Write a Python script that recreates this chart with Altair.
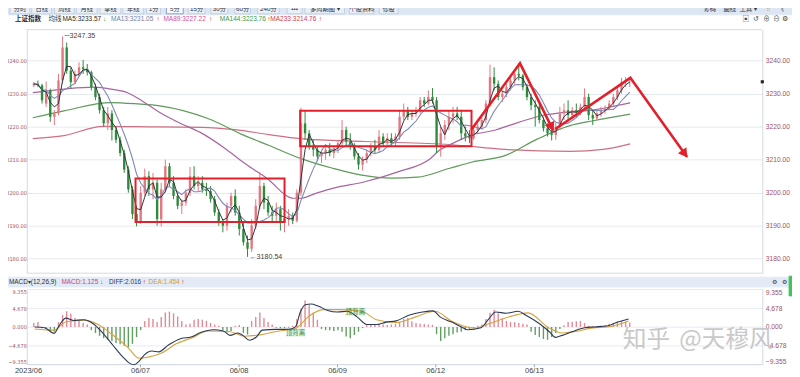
import math
import altair as alt
import pandas as pd

# ---------------- values ----------------
# one candle = two 5-minute bars; candle_bar = 5-minute bar index of the candle
candle_bar = list(range(1, 292, 2))
opens = [3232.5, 3233, 3232.5, 3227, 3231, 3223, 3224, 3234, 3244, 3237,
         3233.5, 3236, 3238, 3237.5, 3236.5, 3232, 3229, 3225, 3221, 3224,
         3219, 3216, 3212, 3207, 3201, 3193.5, 3191, 3200, 3205, 3201,
         3203, 3192, 3201, 3208, 3203, 3199, 3196, 3197, 3200, 3205,
         3202, 3203, 3201, 3200.5, 3198, 3194, 3191, 3190, 3196, 3199,
         3194, 3189, 3185, 3183, 3190, 3196, 3202, 3197, 3194, 3193,
         3195, 3191, 3192, 3193, 3191.5, 3200, 3221, 3218, 3214, 3213,
         3211, 3212, 3213, 3212, 3213.5, 3215, 3219, 3215.5, 3214, 3211,
         3208.5, 3210, 3212, 3214, 3213, 3217, 3215, 3216.5, 3215, 3217,
         3223, 3225, 3223, 3224, 3225, 3228, 3227, 3229, 3228, 3214,
         3218, 3220.5, 3223, 3224, 3223, 3218, 3217, 3216.5, 3219, 3220,
         3222, 3227, 3235, 3233, 3229, 3230, 3232, 3234, 3236, 3235.5,
         3232, 3229, 3226.5, 3226, 3222, 3219.5, 3218, 3217.5, 3220, 3224,
         3225, 3223.5, 3225, 3224.5, 3226, 3229, 3223.5, 3222.5, 3224, 3225,
         3225.5, 3227, 3229, 3231, 3233.5, 3233.5]
highs = [3233.5, 3234, 3233, 3233.7, 3231.5, 3225, 3236, 3247.35, 3245.5, 3238,
         3237, 3239.5, 3240.2, 3239, 3237, 3233, 3230, 3226, 3226, 3225,
         3220, 3217, 3213, 3208, 3202, 3196, 3202, 3207.3, 3206.5, 3206,
         3204, 3203, 3210, 3209, 3205, 3200, 3198, 3201, 3207.8, 3208,
         3205, 3205, 3203, 3202, 3199, 3195, 3192, 3197, 3200, 3201,
         3196, 3191, 3187, 3192, 3198, 3206.2, 3203, 3199, 3196, 3197,
         3196, 3194, 3195, 3194, 3201, 3225.7, 3225, 3219, 3216, 3214,
         3213, 3214, 3215, 3214, 3216, 3222, 3220, 3218, 3215, 3212,
         3211, 3213, 3215, 3216, 3219, 3218, 3218, 3218, 3218, 3225,
         3227, 3226, 3225, 3226, 3229, 3229, 3231, 3231.7, 3229, 3220,
         3222, 3225, 3226, 3226, 3225, 3220, 3219, 3220, 3221, 3223,
         3228, 3238.8, 3238, 3234, 3231, 3233, 3235, 3237, 3239.3, 3236,
         3233, 3230, 3228, 3227, 3223, 3221, 3219, 3221, 3226, 3227,
         3228, 3226, 3227, 3227, 3231.6, 3230, 3225, 3225, 3226, 3226.5,
         3228, 3230, 3232, 3234.8, 3235, 3234.5]
lows = [3232, 3232, 3227, 3226, 3221.5, 3220.5, 3223.5, 3233, 3236, 3231.5,
        3233, 3235, 3236, 3235.5, 3231, 3228, 3224, 3220, 3219, 3215.8,
        3215, 3211, 3206, 3200, 3192, 3189.8, 3190.5, 3199, 3199, 3198,
        3190, 3189.8, 3200, 3202, 3198, 3195, 3193.5, 3196, 3199, 3201,
        3200.5, 3200, 3199, 3197, 3193, 3190, 3188, 3188.5, 3194, 3193,
        3187, 3184, 3180.54, 3182, 3189, 3195, 3195, 3193, 3191, 3191,
        3188.5, 3188, 3190, 3190.5, 3191, 3199, 3216, 3213, 3211, 3209.5,
        3209, 3210, 3211, 3210.5, 3212, 3214, 3214, 3213, 3210, 3207,
        3206.7, 3209, 3211, 3212, 3212, 3214, 3214, 3214, 3214, 3216,
        3222, 3222, 3222, 3223, 3224, 3226, 3226.5, 3227, 3212, 3210.9,
        3216, 3219, 3221, 3222, 3216, 3215.5, 3215, 3216, 3218, 3219,
        3221, 3226, 3231, 3228, 3227.5, 3229, 3231, 3233, 3234, 3231,
        3228, 3225, 3220, 3221, 3218.5, 3217, 3215.8, 3216, 3219, 3222,
        3222, 3222.5, 3223, 3223.5, 3225, 3222, 3220.5, 3222, 3223, 3224,
        3225, 3226, 3228, 3230, 3232, 3232]
closes = [3233, 3232.5, 3228, 3231, 3223, 3224, 3234, 3244, 3237, 3233.5,
          3236, 3238, 3237.5, 3236.5, 3232, 3229, 3225, 3221, 3224, 3219,
          3216, 3212, 3207, 3201, 3193.5, 3191, 3200, 3205, 3201, 3203,
          3192, 3201, 3208, 3203, 3199, 3196, 3197, 3200, 3205, 3202,
          3203, 3201, 3200.5, 3198, 3194, 3191, 3190, 3196, 3199, 3194,
          3189, 3185, 3183, 3190, 3196, 3202, 3197, 3194, 3193, 3195,
          3191, 3192, 3193, 3191.5, 3200, 3221, 3218, 3214, 3213, 3211,
          3212, 3213, 3212, 3213.5, 3215, 3219, 3215.5, 3214, 3211, 3208.5,
          3210, 3212, 3214, 3213, 3217, 3215, 3216.5, 3215, 3217, 3223,
          3225, 3223, 3224, 3225, 3228, 3227, 3229, 3228, 3214, 3218,
          3220.5, 3223, 3224, 3223, 3218, 3217, 3216.5, 3219, 3220, 3222,
          3227, 3235, 3233, 3229, 3230, 3232, 3234, 3236, 3235.5, 3232,
          3229, 3226.5, 3226, 3222, 3219.5, 3218, 3217.5, 3220, 3224, 3225,
          3223.5, 3225, 3224.5, 3226, 3229, 3223.5, 3222.5, 3224, 3225, 3225.5,
          3227, 3229, 3231, 3233.5, 3233.5, 3233.6]
macd_hist = [1.0, 1.2, -0.3, -0.6, -1.0, -1.2, 1.2, 3.0, 3.9, 3.3,
             2.2, 1.6, 1.0, 0.6, -0.8, -1.5, -2.2, -2.8, -3.2, -3.5,
             -4.0, -4.3, -4.7, -5.0, -4.2, -2.5, -0.8, 1.5, 2.2, 2.0,
             1.2, 2.5, 3.6, 3.8, 3.4, 2.6, 1.5, 0.6, 0.8, 1.8,
             2.0, 1.8, 1.5, 1.0, 0.6, 0.3, -0.8, -1.4, -1.0, 0.3,
             0.5, -1.5, -1.9, 1.5, 2.5, 3.6, 2.2, 1.2, 0.6, -0.2,
             -0.3, -0.3, -0.2, 0.3, 2.0, 4.5, 6.6, 5.5, 3.5, 1.8,
             -0.5, -0.8, -0.8, -1.0, -0.8, -1.2, -2.4, -2.8, -2.0, -1.2,
             -0.3, 0.4, 0.5, 0.6, 0.8, 0.6, 0.5, 0.6, 0.8, 1.2,
             2.0, 2.2, 1.4, 1.0, 0.8, 0.7, 0.6, 0.5, -1.8, -3.5,
             -2.8, -2.2, -1.8, -1.4, -1.2, -0.8, -0.5, -0.3, 0.3, 0.6,
             2.0, 3.5, 4.3, 3.4, 2.2, 1.5, 1.2, 1.2, 1.0, 0.8,
             0.6, -1.2, -2.0, -2.5, -3.0, -3.2, -2.5, -1.5, -0.5, 0.4,
             1.2, 1.3, 1.4, 1.5, 1.0, 0.3, 0.2, 0.1, 0.3, 0.5,
             0.8, 1.0, 1.3, 1.4, 1.2, 1.1]

ma89_bar = [0.5, 15.7, 29.9, 39.4, 46.6, 53.7, 62.3, 72.7, 82.2, 94.1, 103.6, 114.5, 127.4,
            130.7, 138.3, 146.4, 162.1, 178.2, 193.9, 198.7, 203.4, 214.4, 225.8, 232.0,
            248.0, 261.9, 272.3, 281.8, 291.2]
ma89_val = [3230.3, 3231.4, 3232.0, 3231.3, 3230.3, 3227.8, 3224.3, 3220.9, 3218.2, 3213.4,
            3208.9, 3204.3, 3198.3, 3198.3, 3199.8, 3201.3, 3203.3, 3206.3, 3210.3, 3213.0,
            3214.5, 3217.5, 3219.0, 3220.3, 3223.3, 3224.5, 3225.0, 3226.0, 3227.2]
ma144_bar = [0.5, 15.7, 38.5, 51.3, 62.3, 86.0, 103.6, 115.5, 130.7, 146.4, 160.6, 174.9,
             187.7, 203.4, 214.4, 230.5, 246.2, 261.9, 273.3, 291.2]
ma144_val = [3222.7, 3224.8, 3227.3, 3226.9, 3226.3, 3222.4, 3217.3, 3214.3, 3210.4, 3207.4,
             3205.3, 3204.4, 3204.7, 3207.4, 3209.3, 3211.3, 3216.3, 3220.3, 3221.8, 3223.8]
ma233_bar = [0.5, 15.7, 34.7, 49.9, 82.2, 98.9, 115.5, 130.7, 162.1, 203.4, 230.5, 261.9,
             278.0, 291.2]
ma233_val = [3216.4, 3217.3, 3220.1, 3220.0, 3219.8, 3219.1, 3217.6, 3216.4, 3215.5, 3214.6,
             3213.1, 3212.5, 3213.1, 3214.8]

diff_bar = [1.4, 6.2, 10.9, 13.3, 16.6, 20.4, 25.2, 29.9, 34.7, 39.4, 44.2, 47.5, 49.9, 52.3,
            54.7, 58.5, 61.8, 66.5, 72.7, 77.5, 82.2, 88.4, 93.2, 96.5, 100.3, 102.7, 106.0,
            109.3, 112.2, 118.8, 125.0, 128.3, 130.7, 133.1, 135.9, 139.3, 144.0, 148.8, 153.5,
            158.3, 163.0, 167.8, 172.5, 177.3, 183.5, 190.1, 195.3, 198.7, 204.4, 209.1, 212.0,
            218.6, 222.4, 225.8, 231.0, 236.7, 240.5, 247.1, 251.9, 254.8, 258.1, 262.8, 269.0,
            273.8, 280.4, 285.2, 290.4]
diff_val = [0.0, -0.2, -1.6, 0.3, 2.2, 1.6, 1.8, 0.8, -1.6, -4.5, -7.4, -9.0, -9.4, -8.5,
            -7.0, -6.0, -6.2, -4.5, -2.9, -2.5, -1.4, -0.7, -1.0, -2.1, -1.5, -2.1, -3.3,
            -2.5, -0.8, -0.6, -0.6, 0.0, 3.7, 5.5, 5.7, 5.2, 4.1, 3.7, 3.9,
            2.5, 0.6, 0.6, 1.2, 1.5, 2.9, 3.7, 4.0, 2.5, 1.2, 0.0, -0.7,
            -0.2, 2.0, 3.7, 3.4, 3.9, 2.9, 0.8, -1.2, -2.6, -2.1, -1.2, -0.2,
            0.0, 0.3, 1.2, 2.0]
dea_bar = [1.4, 10.9, 16.6, 25.2, 32.3, 39.4, 46.6, 52.3, 58.5, 63.2, 70.3, 77.5, 86.0,
           96.5, 103.6, 110.7, 120.2, 128.3, 134.5, 141.6, 151.1, 160.6, 167.8, 177.3, 186.8,
           196.3, 204.4, 215.3, 222.4, 234.3, 241.4, 251.9, 258.1, 265.0, 272.3, 281.8, 290.4]
dea_val = [-0.5, -0.8, 1.3, 1.7, 0.6, -2.0, -5.0, -7.8, -7.3, -6.5, -4.2, -2.8, -1.0,
           -1.2, -2.3, -2.0, -1.0, -0.4, 2.5, 4.3, 4.3, 3.9, 1.8, 1.1, 2.5,
           3.9, 1.4, -0.3, 0.8, 2.8, 3.5, -0.3, -1.5, -1.1, -0.3, 0.1, 1.45]

price_ticks = [3180, 3190, 3200, 3210, 3220, 3230, 3240]
macd_ticks = [-9.355, -4.678, 0, 4.678, 9.355]
day_labels = ["2023/06", "06/07", "06/08", "06/09", "06/12", "06/13"]
day_bar = [-1.6, 52.9, 100.9, 148.8, 196.6, 244.6]

box_bar_from = [50.5, 130.6]
box_bar_to = [123.0, 214.0]
box_low = [3191.1, 3214.1]
box_high = [3204.3, 3224.8]

arrow_path = [1, 1, 1, 2, 2, 2]
arrow_bar = [213.9, 237.6, 253.8, 254.8, 291.3, 318.9]
arrow_price = [3219.1, 3239.2, 3218.8, 3219.3, 3234.8, 3210.8]

ext_bar = [15, 105]
ext_price = [3247.35, 3180.54]
ext_label = ["\u2500" + "3247.35", "\u2190" + "3180.54"]

ma_legend = ["MA5:3233.57", "MA13:3231.05", "MA89:3227.22", "MA144:3223.76", "MA233:3214.76"]
ma_legend_arrow = ["\u2193", "\u2191", "\u2191", "\u2191", "\u2191"]
macd_legend = ["MACD:1.125", "DIFF:2.016", "DEA:1.454"]
macd_legend_arrow = ["\u2193", "\u2191", "\u2191"]
toolbar_labels = ["分时", "日线", "周线", "月线", "季线", "年线", "1分", "5分", "15分", "30分",
                  "60分", "240分", "•••", "多周期图 ▾", "个股资料", "诊股"]
toolbar_right = ["筹码", "画线", "工具 ▾", "::", "《"]
divergence_labels = ["顶背离", "顶背离"]
watermark = ["知乎", "@天穆风"]

# ---------------- layout / style ----------------
FONT = "Liberation Sans, Noto Sans CJK SC, sans-serif"
NARROW = "Liberation Sans Narrow, DejaVu Sans Condensed, Liberation Sans, sans-serif"
OX, OY = 27, 28          # page position of the plot box
W, H = 743, 338


def px(x):
    return x - OX


def py(y):
    return y - OY


T_DOMAIN = [0, 353.1]
P_DOMAIN = [3175.6, 3249.4]
P_RANGE = [py(274), py(28)]
M_DOMAIN = [-9.355, 9.355]
M_RANGE = [py(366.3), py(290.3)]

UP, DN = "#e57580", "#2e8b3a"
HUP, HDN = "#e08a95", "#5f9f5f"
RED = "#e3202a"
AXC = "#a0525e"
GRID = "#e5eaf1"
EDGE = "#d3dae3"

xs = alt.Scale(domain=T_DOMAIN, range=[0, W], nice=False, zero=False)
ps = alt.Scale(domain=P_DOMAIN, range=P_RANGE, nice=False, zero=False)
ms = alt.Scale(domain=M_DOMAIN, range=M_RANGE, nice=False, zero=False)
X = alt.X("t:Q", scale=xs, axis=None)


def yaxis(orient, values, fmt, grid, flush):
    return alt.Axis(orient=orient, values=values, format=fmt, grid=grid, gridColor=GRID,
                    domainColor=EDGE, ticks=False, labelColor=AXC,
                    labelFontSize=5.6 if orient == "left" else 6.8,
                    labelFont=NARROW if orient == "left" else FONT,
                    labelPadding=0.5 if orient == "left" else 3, title=None,
                    labelOverlap=False, labelFlush=flush)


cdf = pd.DataFrame({"t": candle_bar, "o": opens, "h": highs, "l": lows, "c": closes,
                    "hist": macd_hist})
updown = alt.condition("datum.c >= datum.o", alt.value(UP), alt.value(DN))

layers = []


# ---- UI helpers (page coordinates) ----
def ui_rects(rows, sw=0.8):
    df = pd.DataFrame(rows, columns=["x", "x2", "y", "y2", "fill", "stroke"])
    df["x"] -= OX
    df["x2"] -= OX
    df["y"] -= OY
    df["y2"] -= OY
    return alt.Chart(df).mark_rect(strokeWidth=sw).encode(
        x=alt.X("x:Q", scale=None, axis=None), x2="x2:Q",
        y=alt.Y("y:Q", scale=None, axis=None), y2="y2:Q",
        fill=alt.Fill("fill:N", scale=None, legend=None),
        stroke=alt.Stroke("stroke:N", scale=None, legend=None))


def ui_text(rows, size, align="left", weight="normal", font=FONT, opacity=1.0):
    df = pd.DataFrame(rows, columns=["label", "x", "y", "col"])
    df["x"] -= OX
    df["y"] -= OY
    return alt.Chart(df).mark_text(align=align, baseline="middle", fontSize=size,
                                   fontWeight=weight, font=font, opacity=opacity).encode(
        x=alt.X("x:Q", scale=None, axis=None), y=alt.Y("y:Q", scale=None, axis=None),
        text="label:N", color=alt.Color("col:N", scale=None, legend=None))


# backgrounds
btn_x = [(10, 30), (32, 52), (55, 75), (77, 98), (101, 122), (124, 145), (148, 162), (168, 185),
         (190, 207), (213, 230), (237, 253), (260, 282), (290, 305), (308, 348), (353, 378),
         (383, 402)]
bg_rows = [(0, 800, 0, 13, "#dde6f3", "#dde6f3"),
           (0, 800, 278, 288, "#e3eaf5", "#e3eaf5"),
           (797, 800, 277, 297, "#45c35a", "#45c35a"),
           (289, 308, 330, 338, "#e9f4e9", "#e9f4e9"),
           (349, 369, 309, 317, "#e9f4e9", "#e9f4e9")]
for i, (a, b) in enumerate(btn_x):
    active = toolbar_labels[i] == "5分"
    bg_rows.append((a, b, 2, 12, "#f7f9fc" if active else "#e9eff7",
                    "#6d8ebf" if active else "#bccadc"))
layers.append(ui_rects(bg_rows))

# panel edge lines
edge_df = pd.DataFrame({"x": [0, 0, 0], "x2": [W, W, W], "y": [py(28), py(274), py(366.3)]})
layers.append(alt.Chart(edge_df).mark_rule(color=EDGE, strokeWidth=1).encode(
    x=alt.X("x:Q", scale=None, axis=None), x2="x2:Q", y=alt.Y("y:Q", scale=None, axis=None)))

# ---- price panel ----
layers.append(alt.Chart(pd.DataFrame({"t": ma233_bar, "v": ma233_val})).mark_line(
    color="#cf6f82", strokeWidth=1.2, interpolate="monotone").encode(
    x=X, y=alt.Y("v:Q", scale=ps, axis=yaxis("right", price_ticks, ".2f", False, False))))
layers.append(alt.Chart(pd.DataFrame({"t": ma144_bar, "v": ma144_val})).mark_line(
    color="#5e9a5a", strokeWidth=1.2, interpolate="monotone").encode(
    x=X, y=alt.Y("v:Q", scale=ps, axis=None)))
layers.append(alt.Chart(pd.DataFrame({"t": ma89_bar, "v": ma89_val})).mark_line(
    color="#a8669e", strokeWidth=1.2, interpolate="monotone").encode(
    x=X, y=alt.Y("v:Q", scale=ps, axis=None)))

layers.append(alt.Chart(cdf).mark_rule(strokeWidth=1).encode(
    x=X, y=alt.Y("l:Q", scale=ps, axis=yaxis("left", price_ticks, ".2f", True, False)),
    y2="h:Q", color=updown))
layers.append(alt.Chart(cdf).mark_bar(width=2.4).encode(
    x=X, y=alt.Y("o:Q", scale=ps, axis=None), y2="c:Q", color=updown))

layers.append(alt.Chart(cdf).transform_window(
    m="mean(c)", frame=[-6, 0], sort=[alt.SortField("t")]).mark_line(
    color="#8088b4", strokeWidth=1.1).encode(x=X, y=alt.Y("m:Q", scale=ps, axis=None)))
layers.append(alt.Chart(cdf).transform_window(
    m="mean(c)", frame=[-2, 0], sort=[alt.SortField("t")]).mark_line(
    color="#30343c", strokeWidth=1.0).encode(x=X, y=alt.Y("m:Q", scale=ps, axis=None)))

# last price marker on the right edge
layers.append(alt.Chart(cdf).transform_filter("datum.t == 291").mark_square(
    size=10, color="#222", opacity=1).encode(x=alt.value(W), y=alt.Y("c:Q", scale=ps, axis=None)))

# extreme labels
layers.append(alt.Chart(pd.DataFrame({"t": ext_bar, "p": ext_price, "lab": ext_label}))
              .mark_text(align="left", baseline="middle", dx=2, fontSize=7.2, color="#444",
                         font=FONT).encode(x=X, y=alt.Y("p:Q", scale=ps, axis=None),
                                           text="lab:N"))

# red boxes
layers.append(alt.Chart(pd.DataFrame({"t": box_bar_from, "t2": box_bar_to, "p": box_low,
                                      "p2": box_high}))
              .mark_rect(fillOpacity=0, stroke=RED, strokeWidth=2, color=RED).encode(
    x=X, x2="t2:Q", y=alt.Y("p:Q", scale=ps, axis=None), y2="p2:Q"))

# red arrows
adf = pd.DataFrame({"path": arrow_path, "ord": list(range(len(arrow_bar))), "t": arrow_bar,
                    "p": arrow_price})
layers.append(alt.Chart(adf).mark_line(color=RED, strokeWidth=2.6).encode(
    x=X, y=alt.Y("p:Q", scale=ps, axis=None), detail="path:N", order="ord:Q"))

PX_T = W / (T_DOMAIN[1] - T_DOMAIN[0])
PX_P = (P_RANGE[0] - P_RANGE[1]) / (P_DOMAIN[1] - P_DOMAIN[0])
heads = []
for path in sorted(set(arrow_path)):
    pts = [(t, p) for a, t, p in zip(arrow_path, arrow_bar, arrow_price) if a == path]
    (t0, p0), (t1, p1) = pts[-2], pts[-1]
    dx, dy = (t1 - t0) * PX_T, -(p1 - p0) * PX_P
    L = math.hypot(dx, dy)
    ux, uy = dx / L, dy / L
    heads.append({"t": t1 - 4 * ux / PX_T, "p": p1 + 4 * uy / PX_P,
                  "ang": math.degrees(math.atan2(dx, -dy)) % 360})
layers.append(alt.Chart(pd.DataFrame(heads)).mark_point(
    shape="triangle-up", filled=True, size=110, color=RED, opacity=1).encode(
    x=X, y=alt.Y("p:Q", scale=ps, axis=None), angle=alt.Angle("ang:Q", scale=None)))

# ---- MACD panel ----
layers.append(alt.Chart(cdf).mark_rule(strokeWidth=1.4).encode(
    x=X, y=alt.Y("hist:Q", scale=ms, axis=yaxis("left", macd_ticks, ".3f", True, True)),
    y2=alt.datum(0),
    color=alt.condition("datum.hist >= 0", alt.value(HUP), alt.value(HDN))))
layers.append(alt.Chart(pd.DataFrame({"t": dea_bar, "v": dea_val})).mark_line(
    color="#d6a23e", strokeWidth=1.1, interpolate="monotone").encode(
    x=X, y=alt.Y("v:Q", scale=ms, axis=None)))
layers.append(alt.Chart(pd.DataFrame({"t": diff_bar, "v": diff_val})).mark_line(
    color="#2b3a55", strokeWidth=1.1, interpolate="monotone").encode(
    x=X, y=alt.Y("v:Q", scale=ms, axis=yaxis("right", macd_ticks, ".3f", False, True))))

# date axis labels and ticks
ddf = pd.DataFrame({"t": day_bar, "lab": day_labels})
layers.append(alt.Chart(ddf).mark_text(baseline="middle", fontSize=7.6, color="#444",
                                       font=FONT).encode(
    x=X, y=alt.value(py(373)), text="lab:N"))
layers.append(alt.Chart(ddf.iloc[1:]).mark_rule(color="#9aa5b5").encode(
    x=X, y=alt.value(py(366.3)), y2=alt.value(py(369))))

# ---- UI texts ----
RUP, GDN = "#d42020", "#1f9a35"
tb = [(lab, (a + b) / 2, 7.2, "#2a2f38") for lab, (a, b) in zip(toolbar_labels, btn_x)]
tb += [(lab, x, 7.2, "#2a2f38") for lab, x in zip(toolbar_right, [717, 737, 756, 776, 789])]
layers.append(ui_text(tb, 6.3, align="center"))

row2 = [("均线", 49, 17.5, "#333")]
leg_x = [63, 112, 165, 222, 273]
leg_arrow_x = [104, 158, 211, 270, 322]
leg_col = ["#2a2a2a", "#6f80a6", "#d24f9c", "#3a9a48", "#d03c50"]
for lab, x, col in zip(ma_legend, leg_x, leg_col):
    row2.append((lab, x, 17.5, col))
for ar, x in zip(ma_legend_arrow, leg_arrow_x):
    row2.append((ar, x, 17.5, GDN if ar == "\u2193" else RUP))
row2 += [(g, x, 17.5, "#3a4250") for g, x in zip(["▣", "↺", "⊕", "⊖", "⚙"],
                                                  [750, 761, 771, 781, 790])]
layers.append(ui_text(row2, 6.6))
layers.append(ui_text([("上证指数", 15, 17.5, "#1e2330")], 6.6, weight="bold"))

mh = [("MACD▾", 9, 283, "#2a2f38"), ("(12,26,9)", 31, 283, "#2a2f38")]
for lab, x, col in zip(macd_legend, [62, 110, 150], ["#c24a66", "#2b3a55", "#cf9a30"]):
    mh.append((lab, x, 283, col))
for ar, x in zip(macd_legend_arrow, [101, 144, 183]):
    mh.append((ar, x, 283, GDN if ar == "\u2193" else RUP))
mh += [("⚙", 780, 283, "#2e3a4c"), ("⚙", 790, 283, "#2e3a4c")]
layers.append(ui_text(mh, 6.5))

layers.append(ui_text([(divergence_labels[0], 298.5, 334, "#3a8a3a"),
                       (divergence_labels[1], 359, 313, "#3a8a3a")], 6.5, align="center"))

layers.append(ui_text([(watermark[0], 629, 342, "#c4c4c4"), (watermark[1], 686, 342, "#c4c4c4")],
                      24, opacity=0.9, font="Noto Sans CJK SC, sans-serif"))

chart = alt.layer(*layers).resolve_scale(y="independent").properties(
    width=W, height=H, background="white",
    autosize=alt.AutoSizeParams(type="none"),
    padding={"left": 19, "top": 20, "right": 30, "bottom": 11},
).configure_view(strokeWidth=0)

chart.save("out.html", embed_options={"renderer": "svg", "actions": False})
